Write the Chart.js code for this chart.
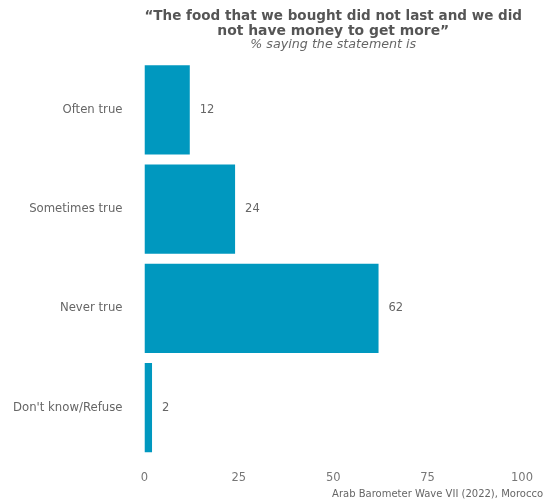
<!DOCTYPE html>
<html>
<head>
<meta charset="utf-8">
<script src="https://cdn.jsdelivr.net/npm/chart.js@4"></script>
<style>
  html, body { margin: 0; padding: 0; background: #fff; }
  #wrap { width: 547px; height: 502px; }
</style>
</head>
<body>
<div id="wrap"><canvas id="chart"></canvas></div>
<script>
// data
const categories = ['Often true', 'Sometimes true', 'Never true', "Don't know/Refuse"];
const shares = [12, 24, 62, 2];
const xTicks = [0, 25, 50, 75, 100];

const titleLines = ['\u201CThe food that we bought did not last and we did', 'not have money to get more\u201D'];
const subtitleText = '% saying the statement is';
const captionText = 'Arab Barometer Wave VII (2022), Morocco';

const FONT = "'DejaVu Sans', sans-serif";

// values printed just right of each bar
const valueLabels = {
  id: 'valueLabels',
  afterDatasetsDraw(chart) {
    const ctx = chart.ctx;
    const meta = chart.getDatasetMeta(0);
    ctx.save();
    ctx.font = '11.5px ' + FONT;
    ctx.fillStyle = '#666';
    ctx.textBaseline = 'middle';
    ctx.textAlign = 'left';
    meta.data.forEach((bar, i) => {
      ctx.fillText(String(shares[i]), bar.x + 10, bar.y);
    });
    ctx.restore();
  }
};

// source line in the bottom right corner
const caption = {
  id: 'caption',
  afterDraw(chart) {
    const ctx = chart.ctx;
    ctx.save();
    ctx.font = '10px ' + FONT;
    ctx.fillStyle = '#666';
    ctx.textAlign = 'right';
    ctx.textBaseline = 'alphabetic';
    ctx.fillText(captionText, chart.width - 4, chart.height - 5);
    ctx.restore();
  }
};

new Chart(document.getElementById('chart'), {
  type: 'bar',
  data: {
    labels: categories,
    datasets: [{
      data: shares,
      backgroundColor: '#0098bf',
      borderWidth: 0,
      barPercentage: 0.9,
      categoryPercentage: 1
    }]
  },
  options: {
    indexAxis: 'y',
    responsive: true,
    maintainAspectRatio: false,
    animation: false,
    layout: { padding: { left: -9, right: 25, top: 5, bottom: 3 } },
    scales: {
      x: {
        min: 0,
        max: 100,
        afterBuildTicks(axis) { axis.ticks = xTicks.map(v => ({ value: v })); },
        grid: { display: false, drawTicks: false },
        border: { display: false },
        ticks: { color: '#777', font: { family: FONT, size: 11.5 }, padding: 14 }
      },
      y: {
        grid: { display: false, drawTicks: false },
        border: { display: false },
        ticks: { color: '#666', font: { family: FONT, size: 11.7 }, padding: 22 }
      }
    },
    plugins: {
      legend: { display: false },
      tooltip: { enabled: false },
      title: {
        display: true,
        fullSize: false,
        text: titleLines,
        color: '#555',
        font: { family: FONT, size: 13.9, weight: 'bold', lineHeight: 1.06 },
        padding: { top: 4, bottom: 0 }
      },
      subtitle: {
        display: true,
        fullSize: false,
        text: subtitleText,
        color: '#666',
        font: { family: FONT, size: 12.7, style: 'italic', lineHeight: 1.0 },
        padding: { top: 0, bottom: 9 }
      }
    }
  },
  plugins: [valueLabels, caption]
});
</script>
</body>
</html>
